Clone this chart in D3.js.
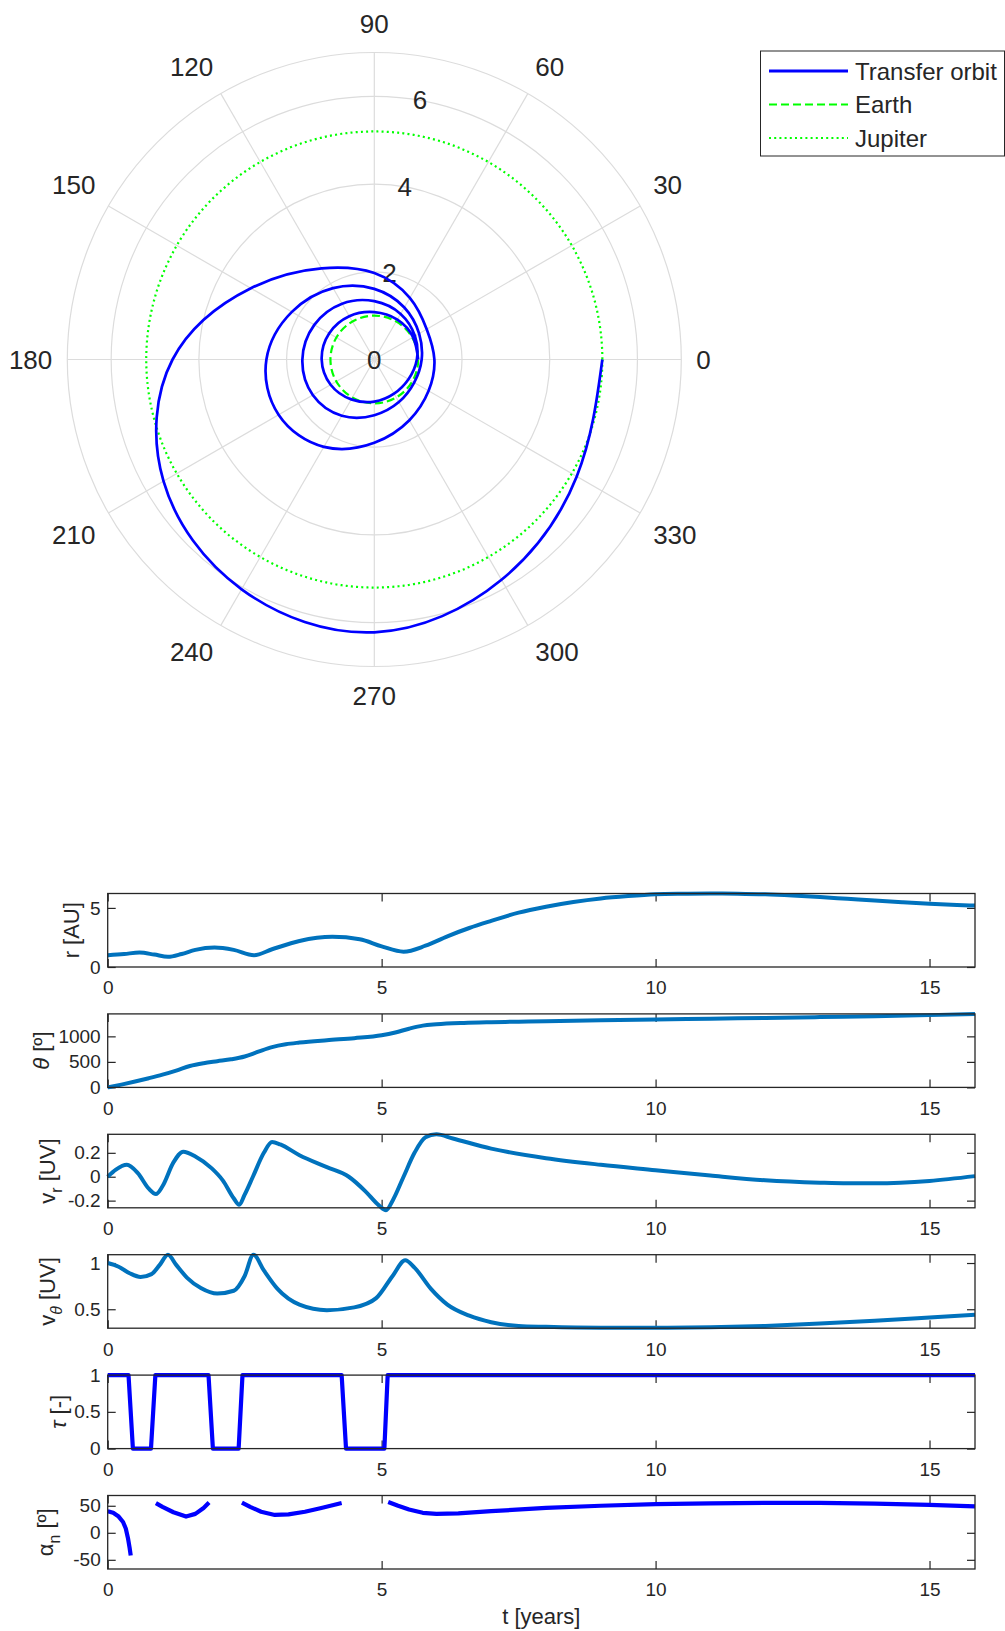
<!DOCTYPE html>
<html><head><meta charset="utf-8">
<script src="https://cdn.jsdelivr.net/npm/d3@7"></script>
<style>
body{margin:0;background:#fff}
text{font-family:"Liberation Sans",Arial,Helvetica,sans-serif;fill:#262626}
</style>
</head><body>
<svg id="c" width="1005" height="1631"></svg>
<script>
// ---------------- DATA ----------------
const thetaTicks = [0,30,60,90,120,150,180,210,240,270,300,330];
const rTicks = [0,2,4,6];
const rMax = 7;
const earthRadius = 1.0;
const jupiterRadius = 5.2;
const legendLabels = ["Transfer orbit","Earth","Jupiter"];

// transfer orbit in polar form: cumulative angle [deg], radius [AU]
const orbitTheta = [0,30,60,90,120,150,180,210,240,270,300,330,360,
  390,420,450,480,510,540,570,600,630,660,690,720,
  750,780,810,840,870,900,930,960,990,1020,1050,1080,
  1110,1140,1170,1200,1230,1260,1290,1320,1350,1380,1410,1440];
const orbitR = [1.00,1.02,1.05,1.08,1.14,1.19,1.20,1.15,1.05,0.96,0.90,0.90,0.97,
  1.07,1.20,1.33,1.47,1.58,1.64,1.62,1.48,1.27,1.12,1.05,1.08,
  1.18,1.37,1.61,1.88,2.17,2.46,2.52,2.30,1.90,1.60,1.43,1.37,
  1.38,1.62,1.97,2.40,3.25,4.60,5.55,6.05,6.22,5.80,5.33,5.20];

const xTicks = [0,5,10,15];
const tEnd = 15.83;

// r [AU]
const rTime = [0,0.3,0.58,0.85,1.1,1.35,1.6,1.95,2.3,2.67,3.0,3.5,4.1,4.6,5.0,5.4,5.8,6.2,6.6,7.0,7.5,8.0,8.5,9.0,9.5,10.0,10.5,11.0,11.5,12.0,12.5,13.0,13.5,14.0,14.5,15.0,15.5,15.83];
const rValues = [1.0,1.1,1.22,1.05,0.86,1.1,1.45,1.65,1.45,1.0,1.5,2.2,2.55,2.35,1.75,1.3,1.8,2.6,3.3,3.9,4.6,5.1,5.5,5.8,6.0,6.15,6.2,6.22,6.2,6.15,6.05,5.92,5.77,5.62,5.48,5.35,5.25,5.2];
const rTicksY = [0,5];

// theta [deg]
const thTime = [0,0.25,0.5,0.75,1.0,1.25,1.5,1.75,2.0,2.25,2.5,2.75,3.0,3.25,3.5,4.0,4.5,5.0,5.25,5.5,5.75,6.0,6.5,7.0,7.5,8.0,9.0,10.0,11.0,12.0,13.0,14.0,15.0,15.83];
const thValues = [0,55,115,180,250,330,420,475,513,550,605,700,790,845,878,925,965,1020,1075,1150,1210,1235,1262,1277,1288,1297,1314,1331,1347,1362,1378,1394,1416,1440];
const thTicksY = [0,500,1000];

// v_r [UV]
const vrTime = [0,0.15,0.35,0.55,0.75,0.88,1.0,1.2,1.38,1.6,1.9,2.1,2.3,2.4,2.5,2.65,2.85,3.0,3.15,3.5,4.0,4.4,4.7,4.95,5.08,5.2,5.4,5.6,5.8,6.0,6.3,7.0,8.0,9.0,10.0,11.0,12.0,13.0,13.5,14.0,15.0,15.83];
const vrValues = [0,0.06,0.1,0.03,-0.1,-0.145,-0.08,0.12,0.21,0.17,0.07,-0.03,-0.18,-0.235,-0.15,0,0.2,0.29,0.27,0.18,0.08,0,-0.12,-0.24,-0.28,-0.2,0,0.2,0.33,0.355,0.32,0.235,0.155,0.1,0.055,0.01,-0.03,-0.05,-0.055,-0.055,-0.035,0.005];
const vrTicksY = [-0.2,0,0.2];

// v_theta [UV]
const vtTime = [0,0.2,0.4,0.6,0.8,0.95,1.1,1.25,1.45,1.7,2.0,2.3,2.5,2.66,2.85,3.1,3.5,4.0,4.5,4.9,5.2,5.43,5.6,5.9,6.2,6.6,7.0,7.5,8.0,9.0,10.0,11.0,12.0,13.0,14.0,15.0,15.83];
const vtValues = [1.0,0.96,0.89,0.85,0.88,0.98,1.09,0.98,0.84,0.73,0.67,0.7,0.86,1.09,0.92,0.72,0.55,0.49,0.52,0.62,0.86,1.03,0.95,0.72,0.55,0.43,0.36,0.32,0.31,0.30,0.30,0.305,0.32,0.345,0.375,0.41,0.44];
const vtTicksY = [0.5,1];

// tau [-]
const tauTime = [0,0.38,0.46,0.79,0.87,1.84,1.92,2.39,2.46,4.27,4.35,5.05,5.11,15.83];
const tauValues = [1,1,0,0,1,1,0,0,1,1,0,0,1,1];
const tauTicksY = [0,0.5,1];

// alpha_n [deg]  (null = thrust off)
const alTime = [0,0.1,0.2,0.28,0.33,0.37,0.4,0.42,0.6,0.88,1.0,1.2,1.43,1.6,1.75,1.85,2.1,2.45,2.6,2.8,3.05,3.3,3.6,3.9,4.27,4.7,5.12,5.3,5.5,5.75,6.0,6.4,7.0,8.0,9.0,10.0,11.0,12.0,13.0,14.0,15.0,15.83];
const alValues = [40,37,30,20,8,-10,-28,-42,null,55,48,38,30,35,46,56,null,56,48,39,33,34,39,46,55,null,57,50,43,37,35,36,40,46,50,53,54.5,55.5,55.5,54,51.5,49];
const alTicksY = [-50,0,50];

// ---------------- DRAW ----------------
const svg = d3.select('#c');
const INK = '#262626';

// ----- polar -----
const cx = 374.3, cy = 359.5, R = 307;
const rs = d3.scaleLinear().domain([0, rMax]).range([0, R]);
const pg = svg.append('g').attr('transform', `translate(${cx},${cy})`);
const rad = d => d * Math.PI / 180;

pg.selectAll('circle.ring').data(rTicks.filter(d => d > 0).concat([rMax]))
  .join('circle').attr('r', d => rs(d)).attr('fill', 'none')
  .attr('stroke', '#dcdcdc').attr('stroke-width', 1.2);
pg.selectAll('line.spoke').data(thetaTicks).join('line')
  .attr('x1', 0).attr('y1', 0)
  .attr('x2', d => rs(rMax) * Math.cos(rad(d)))
  .attr('y2', d => -rs(rMax) * Math.sin(rad(d)))
  .attr('stroke', '#dcdcdc').attr('stroke-width', 1.2);

const PFS = 26;
pg.selectAll('text.th').data(thetaTicks).join('text')
  .attr('font-size', PFS).attr('text-anchor', 'middle').attr('dominant-baseline', 'central')
  .text(d => d)
  .each(function(d) {
    const w = this.getComputedTextLength(), hb = 28;
    const a = rad(d), rr = R + 15;
    const c = Math.cos(a), s = Math.sin(a);
    const sx = Math.abs(c) < 0.01 ? 0 : Math.sign(c);
    const sy = Math.abs(s) < 0.01 ? 0 : Math.sign(s);
    d3.select(this).attr('x', rr * c + sx * w / 2).attr('y', -rr * s - sy * hb / 2);
  });
pg.selectAll('text.rt').data(rTicks).join('text')
  .attr('font-size', PFS).attr('text-anchor', 'middle').attr('dominant-baseline', 'central')
  .attr('x', d => rs(d) * Math.cos(rad(80)))
  .attr('y', d => -rs(d) * Math.sin(rad(80)))
  .text(d => d);

// Jupiter & Earth
pg.append('circle').attr('r', rs(jupiterRadius)).attr('fill', 'none')
  .attr('stroke', '#00ff00').attr('stroke-width', 2.2).attr('stroke-dasharray', '2,3.2');
pg.append('circle').attr('r', rs(earthRadius)).attr('fill', 'none')
  .attr('stroke', '#00ff00').attr('stroke-width', 2.2).attr('stroke-dasharray', '8,4');

const orbit = orbitTheta.map((t, i) => [t, orbitR[i]]);
const radialLine = d3.lineRadial()
  .angle(d => Math.PI / 2 - rad(d[0]))
  .radius(d => rs(d[1]))
  .curve(d3.curveNatural);
pg.append('path').datum(orbit).attr('d', radialLine)
  .attr('fill', 'none').attr('stroke', '#0000ff').attr('stroke-width', 2.7);

// legend
const lg = svg.append('g');
lg.append('rect').attr('x', 760.5).attr('y', 51).attr('width', 244).attr('height', 105)
  .attr('fill', '#fff').attr('stroke', INK).attr('stroke-width', 1);
const lstyles = [
  {c: '#0000ff', d: null, w: 3},
  {c: '#00ff00', d: '8,4', w: 2.2},
  {c: '#00ff00', d: '2,3.2', w: 2.2}
];
legendLabels.forEach((lab, i) => {
  const y = 71 + i * 33.5;
  const s = lstyles[i];
  const ln = lg.append('line').attr('x1', 769).attr('x2', 848).attr('y1', y).attr('y2', y)
    .attr('stroke', s.c).attr('stroke-width', s.w);
  if (s.d) ln.attr('stroke-dasharray', s.d);
  lg.append('text').attr('x', 855).attr('y', y).attr('dominant-baseline', 'central')
    .attr('font-size', 24).text(lab);
});

// ----- time subplots -----
const X0 = 107.7, X1 = 975;
const xs = d3.scaleLinear().domain([0, tEnd]).range([X0, X1]);
const TOP0 = 893.5, STEP = 120.4, H = 73.5;
const TFS = 19, LFS = 22;

function subplot(k, time, vals, dom, yt, color, lw, fmt) {
  const top = TOP0 + k * STEP, bot = top + H;
  const ys = d3.scaleLinear().domain(dom).range([bot, top]);
  const g = svg.append('g');
  const ax = (sel) => { sel.select('.domain').remove(); sel.selectAll('line').attr('stroke', INK).attr('stroke-width', 1.2); sel.selectAll('text').attr('font-size', TFS).attr('fill', INK).attr('font-family', '"Liberation Sans",Arial,sans-serif'); };
  g.append('g').attr('transform', `translate(0,${bot})`)
    .call(d3.axisBottom(xs).tickValues(xTicks).tickSize(-8).tickPadding(14).tickFormat(d3.format('d'))).call(ax);
  g.append('g').attr('transform', `translate(0,${top})`)
    .call(d3.axisTop(xs).tickValues(xTicks).tickSize(-8).tickFormat('')).call(ax);
  g.append('g').attr('transform', `translate(${X0},0)`)
    .call(d3.axisLeft(ys).tickValues(yt).tickSize(-8).tickPadding(7).tickFormat(fmt)).call(ax);
  g.append('g').attr('transform', `translate(${X1},0)`)
    .call(d3.axisRight(ys).tickValues(yt).tickSize(-8).tickFormat('')).call(ax);
  const data = time.map((t, i) => [t, vals[i]]);
  g.append('path').datum(data)
    .attr('d', d3.line().defined(d => d[1] !== null).x(d => xs(d[0])).y(d => ys(d[1]))
      .curve(k >= 4 ? d3.curveLinear : d3.curveMonotoneX))
    .attr('fill', 'none').attr('stroke', color).attr('stroke-width', lw)
    .attr('stroke-linejoin', 'round');
  g.append('rect').attr('x', X0).attr('y', top).attr('width', X1 - X0).attr('height', H)
    .attr('fill', 'none').attr('stroke', INK).attr('stroke-width', 1.3);
  return {top, bot, ys, g};
}

const fmtNum = d => (d < 0 ? '-' : '') + Math.abs(d);
const p1 = subplot(0, rTime, rValues, [0, 6.22], rTicksY, '#0072bd', 4, fmtNum);
const p2 = subplot(1, thTime, thValues, [0, 1440], thTicksY, '#0072bd', 4, fmtNum);
const p3 = subplot(2, vrTime, vrValues, [-0.26, 0.355], vrTicksY, '#0072bd', 4, fmtNum);
const p4 = subplot(3, vtTime, vtValues, [0.295, 1.09], vtTicksY, '#0072bd', 4, fmtNum);
const p5 = subplot(4, tauTime, tauValues, [0, 1], tauTicksY, '#0000ff', 4.2, fmtNum);
const p6 = subplot(5, alTime, alValues, [-67, 69], alTicksY, '#0000ff', 4.2, fmtNum);

// y labels
function ylabel(p, x, parts) {
  const yc = (p.top + p.bot) / 2;
  const t = svg.append('text').attr('transform', `translate(${x},${yc}) rotate(-90)`)
    .attr('text-anchor', 'middle').attr('font-size', LFS);
  parts.forEach(pt => {
    const s = t.append('tspan').text(pt.t);
    if (pt.i) s.attr('font-style', 'italic');
    if (pt.small) s.attr('font-size', LFS * 0.72);
    if (pt.dy) s.attr('dy', pt.dy);
  });
}
ylabel(p1, 79, [{t: 'r [AU]'}]);
ylabel(p2, 49, [{t: 'θ', i: true}, {t: ' [º]'}]);
ylabel(p3, 55, [{t: 'v'}, {t: 'r', small: true, dy: 7}, {t: ' [UV]', dy: -7}]);
ylabel(p4, 55, [{t: 'v'}, {t: 'θ', i: true, small: true, dy: 7}, {t: ' [UV]', dy: -7}]);
ylabel(p5, 66, [{t: 'τ', i: true}, {t: ' [-]'}]);
ylabel(p6, 53, [{t: 'α'}, {t: 'n', small: true, dy: 7}, {t: ' [º]', dy: -7}]);

svg.append('text').attr('x', (X0 + X1) / 2).attr('y', 1624).attr('text-anchor', 'middle')
  .attr('font-size', LFS).text('t [years]');
</script>
</body></html>
